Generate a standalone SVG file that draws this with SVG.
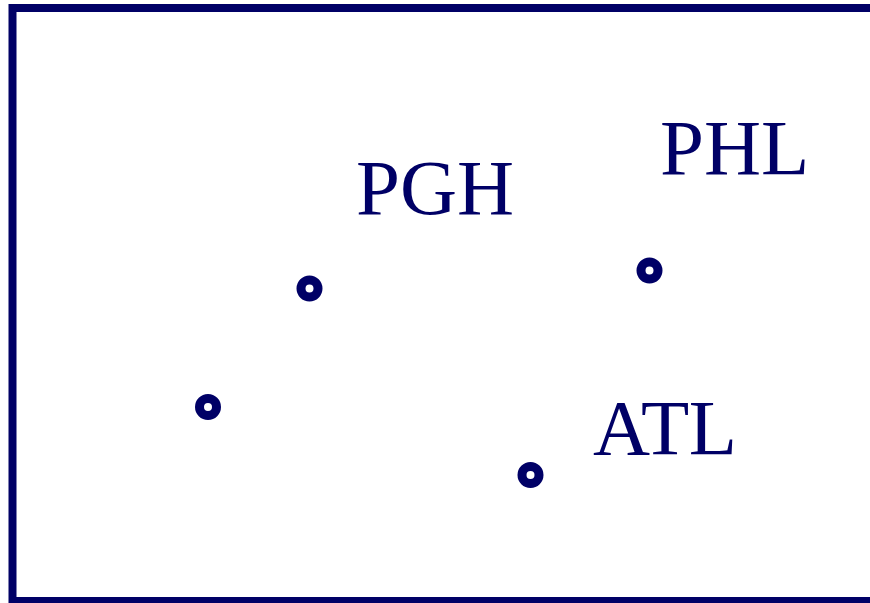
<svg xmlns="http://www.w3.org/2000/svg" width="870" height="603" viewBox="0 0 870 603">
<style>
.frame{fill:none;stroke:#000066;stroke-width:8}
.pt{fill:none;stroke:#000066;stroke-width:9}
.lbl{font-family:"Liberation Serif","Times New Roman",serif;font-size:79px;fill:#000066}
</style>
<rect class="frame" x="12.5" y="8" width="870" height="593"/>
<g id="connectors"></g>
<g id="node-pgh">
<circle class="pt" cx="309.5" cy="288.5" r="8.5"/>
<text class="lbl" x="356" y="214">PGH</text>
</g>
<g id="node-phl">
<circle class="pt" cx="649.5" cy="270.5" r="8.5"/>
<text class="lbl" x="660" y="174">PHL</text>
</g>
<g id="node-atl">
<circle class="pt" cx="530.5" cy="475" r="8.5"/>
<text class="lbl" x="593" y="454" textLength="144">ATL</text>
</g>
<g id="node-4">
<circle class="pt" cx="208" cy="407" r="8.5"/>
</g>
</svg>
